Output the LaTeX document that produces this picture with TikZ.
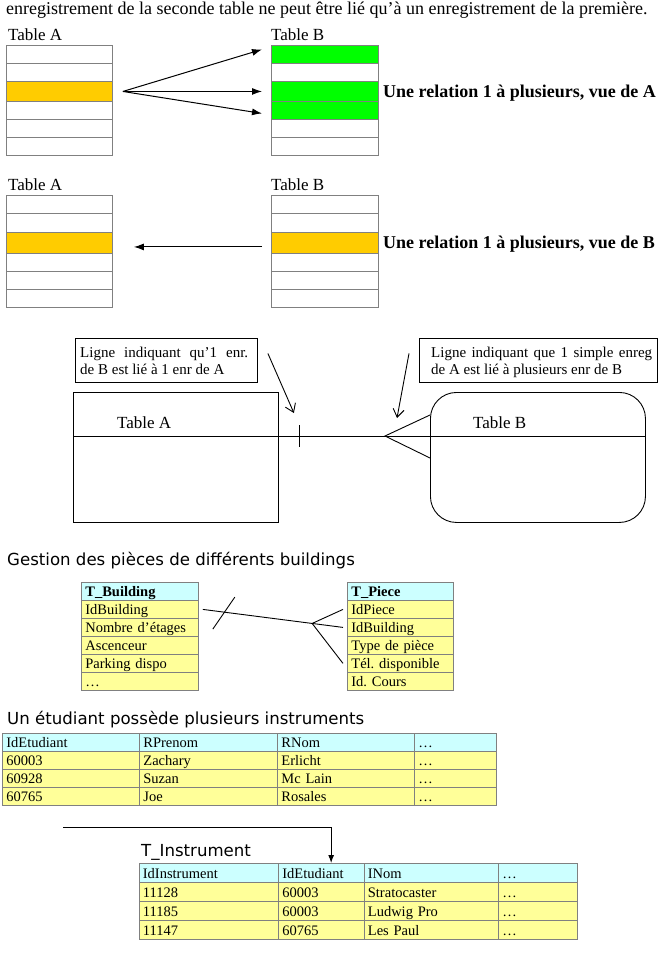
\documentclass[tikz,border=0pt]{standalone}
\usepackage{fontspec}
\setmainfont{Liberation Serif}
\newfontfamily\headfont{DejaVu Sans}
\usetikzlibrary{arrows.meta,calc}
\definecolor{orangerow}{HTML}{FFCC00}
\definecolor{greenrow}{HTML}{00FF00}
\definecolor{headcyan}{HTML}{CCFFFF}
\definecolor{rowyellow}{HTML}{FFFF99}
\definecolor{gridgray}{HTML}{808080}
\frenchspacing
\tikzset{
  rowbox/.style={draw=gridgray, line width=0.9pt, inner sep=0pt, anchor=north west, minimum width=106pt},
  cell/.style={draw=gridgray, line width=0.8pt, inner xsep=4pt, inner ysep=0pt, anchor=north west,
    minimum height=18pt, text height=12pt, text depth=1pt, align=left, font=\fontsize{14.5}{16}\selectfont},
  hcell/.style={cell, fill=headcyan},
  ycell/.style={cell, fill=rowyellow},
  lbl/.style={inner sep=0pt, anchor=base west, font=\fontsize{17}{20}\selectfont},
  introlbl/.style={inner sep=0pt, anchor=base west, font=\fontsize{18}{21}\selectfont},
  boldlbl/.style={inner sep=0pt, anchor=base west, font=\fontsize{18}{21}\selectfont\bfseries},
  headlbl/.style={inner sep=0pt, anchor=base west, font=\headfont\fontsize{16.6}{19}\selectfont},
  smalltxt/.style={inner sep=0pt, anchor=base west, font=\fontsize{15}{17}\selectfont},
  bigarrow/.style={-{Latex[length=10pt,width=7pt]}, line width=1pt},
  barb/.style={-{Straight Barb[length=8pt,width=11pt]}, line width=0.9pt},
  erbox/.style={draw, line width=0.9pt, inner sep=0pt, anchor=north west},
  thinline/.style={line width=0.9pt}
}
\begin{document}
\begin{tikzpicture}[x=1pt,y=-1pt]
\useasboundingbox (0,0) rectangle (662,953);
\fill[white] (0,0) rectangle (662,953);

% introduction line
\node[introlbl] (intro) at (6,14) {enregistrement de la seconde table ne peut être lié qu’à un enregistrement de la première.};

% ---------- section 1 ----------
\node[lbl] (labA1) at (8,40) {Table A};
\node[lbl] (labB1) at (271,40) {Table B};
\foreach \i/\y/\h/\c in {1/45/18pt/white,2/63/18pt/white,3/81/20pt/orangerow,4/101/18pt/white,5/119/18pt/white,6/137/18pt/white}
  \node[rowbox, minimum height=\h, fill=\c] (A\i) at (6,\y) {};
\foreach \i/\y/\h/\c in {1/45/18pt/greenrow,2/63/18pt/white,3/81/20pt/greenrow,4/101/18pt/greenrow,5/119/18pt/white,6/137/18pt/white}
  \node[rowbox, minimum height=\h, minimum width=107pt, fill=\c] (B\i) at (271,\y) {};
\coordinate (src1) at ([xshift=10pt]A3.east);
\draw[bigarrow] (src1) -- ([xshift=-9pt,yshift=5pt]B1.west);
\draw[bigarrow] (src1) -- ([xshift=-9pt]B3.west);
\draw[bigarrow] (src1) -- ([xshift=-9pt,yshift=-3pt]B4.west);
\node[boldlbl] (rel1) at (383,97) {Une relation 1 à plusieurs, vue de A};

% ---------- section 2 ----------
\node[lbl] (labA2) at (8,190) {Table A};
\node[lbl] (labB2) at (271,190) {Table B};
\foreach \i/\y/\h/\c in {1/195/18pt/white,2/213/19pt/white,3/232/21pt/orangerow,4/253/18pt/white,5/271/18pt/white,6/289/18pt/white}
  \node[rowbox, minimum height=\h, fill=\c] (C\i) at (6,\y) {};
\foreach \i/\y/\h/\c in {1/195/18pt/white,2/213/19pt/white,3/232/21pt/orangerow,4/253/18pt/white,5/271/18pt/white,6/289/18pt/white}
  \node[rowbox, minimum height=\h, minimum width=107pt, fill=\c] (D\i) at (271,\y) {};
\draw[bigarrow] ([xshift=-9pt,yshift=-4pt]D3.west) -- ([xshift=21pt,yshift=-4pt]C3.east);
\node[boldlbl] (rel2) at (383,248) {Une relation 1 à plusieurs, vue de B};

% ---------- section 3 : notation ----------
\node[erbox, minimum width=182pt, minimum height=44pt] (callL) at (75,338) {};
\node[smalltxt] (callL1) at ([shift={(5,19.5)}]callL.north west) {\makebox[168pt][s]{Ligne indiquant qu’1 enr.}};
\node[smalltxt] (callL2) at ([shift={(5,36.5)}]callL.north west) {de B est lié à 1 enr de A};
\node[erbox, minimum width=238pt, minimum height=44pt] (callR) at (419,338) {};
\node[smalltxt] (callR1) at ([shift={(12,19.5)}]callR.north west) {\makebox[221pt][s]{Ligne indiquant que 1 simple enreg}};
\node[smalltxt] (callR2) at ([shift={(12,36.5)}]callR.north west) {de A est lié à plusieurs enr de B};

\node[erbox, minimum width=205pt, minimum height=130pt] (tA) at (73,392) {};
\node[erbox, minimum width=215pt, minimum height=130pt, rounded corners=26pt] (tB) at (430,392) {};
\draw[thinline] ([yshift=-44pt]tA.north west) -- ([yshift=-44pt]tA.north east);
\draw[thinline] ([yshift=-44pt]tB.north west) -- ([yshift=-44pt]tB.north east);
\node[lbl] (tAname) at (117,428) {Table A};
\node[lbl] (tBname) at (473,428) {Table B};
\draw[thinline] ([yshift=-44pt]tA.north east) -- ([yshift=-44pt]tB.north west);
\coordinate (tick) at ([xshift=21pt,yshift=-44pt]tA.north east);
\draw[thinline] ([yshift=11pt]tick) -- ([yshift=-11pt]tick);
\coordinate (crow) at ([xshift=-45pt,yshift=-44pt]tB.north west);
\draw[thinline] ([yshift=-23pt]tB.north west) -- (crow) -- ([yshift=-66pt]tB.north west);
\coordinate (pL) at ([xshift=10pt,yshift=7pt]callL.east);
\draw[barb] (pL) -- ([xshift=-6pt,yshift=23pt]tick);
\coordinate (pR) at ([xshift=-10pt,yshift=7pt]callR.west);
\draw[barb] (pR) -- ([xshift=12pt,yshift=18pt]crow);

% ---------- section 4 : buildings ----------
\node[headlbl] (h1) at (7,565) {Gestion des pièces de différents buildings};
\node[hcell, text width=109pt] (bld0) at (81,582) {\textbf{T\_Building}};
\foreach \i/\y/\t in {1/600/IdBuilding, 2/618/Nombre d’étages, 3/636/Ascenceur, 4/654/Parking dispo, 5/672/…}
  \node[ycell, text width=109pt] (bld\i) at (81,\y) {\t};
\node[hcell, text width=98pt] (pc0) at (347,582) {\textbf{T\_Piece}};
\foreach \i/\y/\t in {1/600/IdPiece, 2/618/IdBuilding, 3/636/Type de pièce, 4/654/Tél. disponible, 5/672/Id. Cours}
  \node[ycell, text width=98pt] (pc\i) at (347,\y) {\t};
\coordinate (bs) at ([xshift=4pt]bld1.east);
\coordinate (be) at ([xshift=-4pt]pc2.west);
\draw[thinline] (bs) -- (be);
\coordinate (btk) at ($(bs)!0.15!(be)$);
\draw[thinline] ([shift={(11,-15)}]btk) -- ([shift={(-11,17)}]btk);
\coordinate (bcrow) at ($(bs)!0.78!(be)$);
\draw[thinline] ([xshift=-4pt]pc1.west) -- (bcrow) -- ([xshift=-4pt]pc4.west);

% ---------- section 5 : students ----------
\node[headlbl] (h2) at (7,724) {Un étudiant possède plusieurs instruments};
\foreach \c/\x/\w/\t in {1/2/129pt/IdEtudiant, 2/139/130pt/RPrenom, 3/277/129pt/RNom, 4/414/74pt/…}
  \node[hcell, text width=\w] (s0\c) at (\x,733) {\t};
\foreach \c/\x/\w/\t in {1/2/129pt/60003, 2/139/130pt/Zachary, 3/277/129pt/Erlicht, 4/414/74pt/…}
  \node[ycell, text width=\w] (s1\c) at (\x,751) {\t};
\foreach \c/\x/\w/\t in {1/2/129pt/60928, 2/139/130pt/Suzan, 3/277/129pt/Mc Lain, 4/414/74pt/…}
  \node[ycell, text width=\w] (s2\c) at (\x,769) {\t};
\foreach \c/\x/\w/\t in {1/2/129pt/60765, 2/139/130pt/Joe, 3/277/129pt/Rosales, 4/414/74pt/…}
  \node[ycell, text width=\w] (s3\c) at (\x,787) {\t};

% ---------- section 6 : instruments ----------
\node[headlbl] (h3) at (141,856) {T\_Instrument};
\foreach \c/\x/\w/\t in {1/138.5/131.5pt/IdInstrument, 2/278/77.5pt/IdEtudiant, 3/363.5/126.5pt/INom, 4/498/71pt/…}
  \node[hcell, text width=\w, minimum height=19pt] (i0\c) at (\x,863) {\t};
\foreach \c/\x/\w/\t in {1/138.5/131.5pt/11128, 2/278/77.5pt/60003, 3/363.5/126.5pt/Stratocaster, 4/498/71pt/…}
  \node[ycell, text width=\w, minimum height=19pt] (i1\c) at (\x,882) {\t};
\foreach \c/\x/\w/\t in {1/138.5/131.5pt/11185, 2/278/77.5pt/60003, 3/363.5/126.5pt/Ludwig Pro, 4/498/71pt/…}
  \node[ycell, text width=\w, minimum height=19pt] (i2\c) at (\x,901) {\t};
\foreach \c/\x/\w/\t in {1/138.5/131.5pt/11147, 2/278/77.5pt/60765, 3/363.5/126.5pt/Les Paul, 4/498/71pt/…}
  \node[ycell, text width=\w, minimum height=19pt] (i3\c) at (\x,920) {\t};
\coordinate (istart) at (63,827);
\draw[-{Latex[length=8pt,width=6pt]}, line width=1pt] (istart) -| ([xshift=10pt]i02.north);
\end{tikzpicture}
\end{document}
